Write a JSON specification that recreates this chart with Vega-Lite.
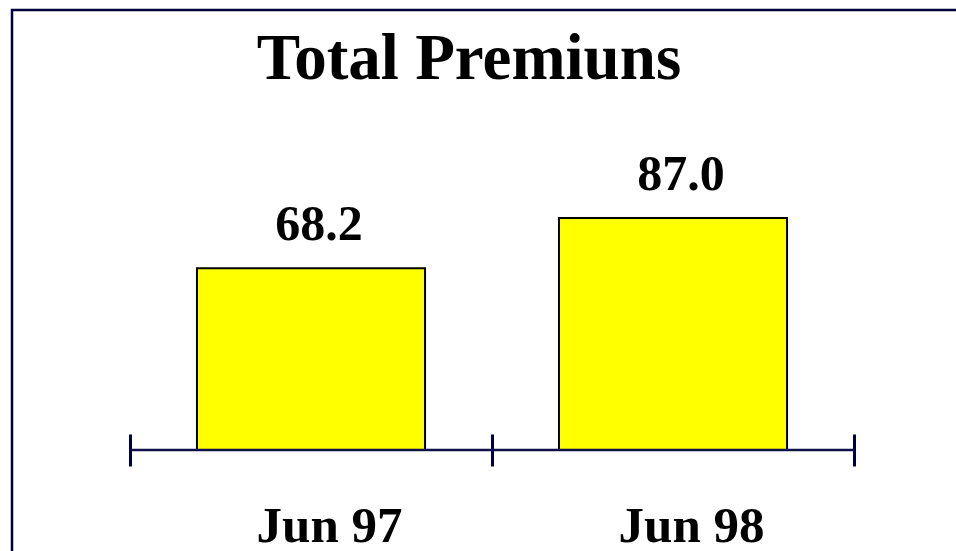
{
  "$schema": "https://vega.github.io/schema/vega-lite/v6.json",
  "autosize": "none",
  "width": 944,
  "height": 541,
  "padding": {"left": 12, "top": 10, "right": 0, "bottom": 0},
  "background": "white",
  "view": {"stroke": "#00003a", "strokeWidth": 2.5, "strokeDash": [944, 1485, 541]},
  "title": {
    "text": "Total Premiuns",
    "font": "Liberation Serif",
    "fontSize": 65,
    "fontWeight": "bold",
    "color": "black",
    "anchor": "middle",
    "frame": "group",
    "baseline": "alphabetic",
    "offset": -73,
    "dx": -15,
    "dy": 61
  },
  "data": {"values": [
    {"period": "Jun 97", "premiums": 68.2},
    {"period": "Jun 98", "premiums": 87.0}
  ]},
  "encoding": {
    "x": {
      "field": "period",
      "type": "nominal",
      "sort": null,
      "scale": {"paddingInner": 0, "paddingOuter": 0.30387, "align": 0.5364},
      "axis": {
        "title": null,
        "domain": false,
        "offset": -117,
        "tickBand": "extent",
        "tickSize": 32,
        "tickWidth": 3,
        "tickColor": "#000040",
        "labelAngle": 0,
        "labelFont": "Liberation Serif",
        "labelFontSize": 51,
        "labelFontWeight": "bold",
        "labelColor": "black",
        "labelBaseline": "alphabetic",
        "labelPadding": 75,
        "labelOffset": 18
      }
    }
  },
  "layer": [
    {
      "mark": {"type": "bar", "width": {"band": 0.63}, "fill": "#ffff00", "stroke": "black", "strokeWidth": 2},
      "encoding": {
        "y": {"field": "premiums", "type": "quantitative", "scale": {"domain": [-37.875, 165], "nice": false, "zero": false}, "axis": null}
      }
    },
    {
      "mark": {"type": "rule", "color": "#10104a", "strokeWidth": 2.5},
      "encoding": {
        "x": {"field": "period", "type": "nominal", "sort": null, "bandPosition": 0},
        "x2": {"field": "period", "bandPosition": 1},
        "y": {"datum": 0, "type": "quantitative"}
      }
    },
    {
      "mark": {"type": "text", "font": "Liberation Serif", "fontSize": 50, "fontWeight": "bold", "color": "black", "baseline": "alphabetic", "dx": 8, "dy": -28},
      "encoding": {
        "y": {"field": "premiums", "type": "quantitative"},
        "text": {"field": "premiums", "type": "quantitative", "format": ".1f"}
      }
    }
  ]
}
